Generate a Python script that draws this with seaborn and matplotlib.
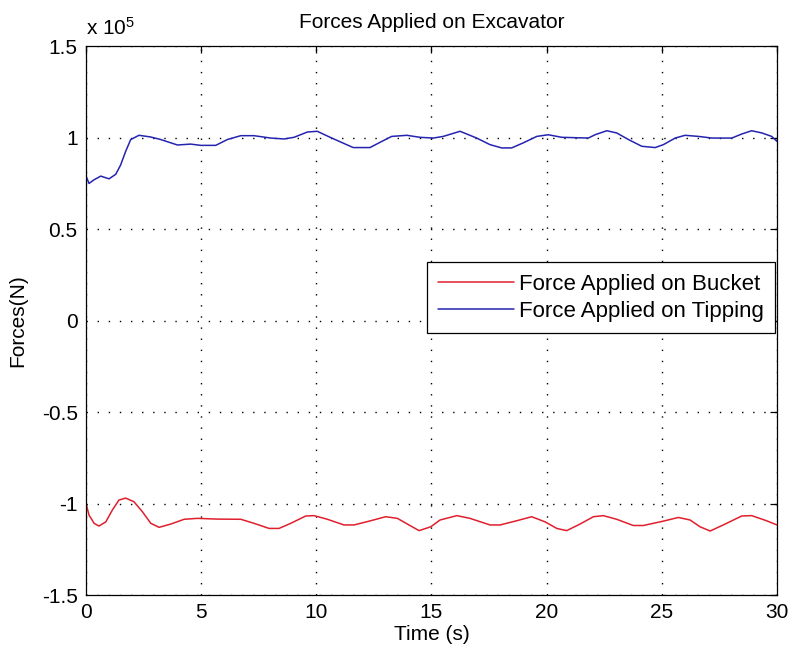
import numpy as np
import pandas as pd
import matplotlib
matplotlib.use("Agg")
import matplotlib.pyplot as plt
from matplotlib.ticker import FuncFormatter, MultipleLocator
import seaborn as sns

# Time samples (s) and forces (in units of 1e5 N)
t_bucket = [0, 0.13, 0.35, 0.56, 0.86, 1.14, 1.43, 1.72, 2.08, 2.45,
            2.81, 3.17, 3.68, 4.26, 4.83, 5.7, 6.72, 7.29, 7.95, 8.38,
            8.89, 9.54, 9.9, 10.48, 11.2, 11.64, 12.36, 13.01, 13.52, 14.02,
            14.46, 14.97, 15.37, 16.1, 16.67, 17.54, 17.98, 18.7, 19.35, 19.93,
            20.44, 20.87, 21.45, 22.03, 22.46, 23.04, 23.76, 24.2, 25.07, 25.72,
            26.23, 26.66, 27.1, 27.67, 28.47, 28.9, 29.55, 30]
f_bucket = [-1.0, -1.063, -1.108, -1.123, -1.1, -1.036, -0.981, -0.97, -0.99, -1.045,
            -1.108, -1.13, -1.112, -1.086, -1.081, -1.085, -1.086, -1.108, -1.136, -1.136,
            -1.108, -1.068, -1.066, -1.086, -1.117, -1.117, -1.094, -1.072, -1.081, -1.117,
            -1.148, -1.127, -1.09, -1.066, -1.081, -1.117, -1.117, -1.094, -1.072, -1.1,
            -1.136, -1.148, -1.112, -1.072, -1.066, -1.086, -1.12, -1.12, -1.096, -1.076,
            -1.09, -1.127, -1.15, -1.117, -1.068, -1.066, -1.094, -1.117]

t_tipping = [0, 0.13, 0.35, 0.64, 1.0, 1.29, 1.5, 1.72, 1.94, 2.3,
             2.8, 3.24, 3.97, 4.54, 4.98, 5.63, 6.14, 6.72, 7.29, 8.02,
             8.6, 9.03, 9.61, 10.04, 10.6, 11.17, 11.6, 12.33, 12.77, 13.27,
             13.93, 14.5, 15.08, 15.51, 16.24, 16.96, 17.54, 18.05, 18.48, 18.99,
             19.57, 20.07, 20.66, 21.81, 22.1, 22.61, 23.04, 23.55, 24.13, 24.71,
             25.07, 25.58, 26.01, 26.59, 27.17, 28.04, 28.47, 28.9, 29.34, 29.77, 30]
f_tipping = [0.79, 0.75, 0.77, 0.79, 0.775, 0.80, 0.85, 0.925, 0.99, 1.013,
             1.004, 0.99, 0.96, 0.965, 0.958, 0.958, 0.99, 1.011, 1.011, 0.998,
             0.993, 1.002, 1.031, 1.035, 1.002, 0.97, 0.946, 0.946, 0.975, 1.007,
             1.013, 1.002, 0.998, 1.007, 1.035, 0.998, 0.962, 0.944, 0.944, 0.972,
             1.007, 1.016, 1.002, 0.998, 1.016, 1.038, 1.026, 0.99, 0.953, 0.946,
             0.962, 0.998, 1.013, 1.007, 0.998, 0.998, 1.02, 1.038, 1.026, 1.007, 0.98]

labels = ["Force Applied on Bucket", "Force Applied on Tipping"]
SCALE = 1e5

sns.set_theme(style="white")
plt.rcParams["font.family"] = ["Liberation Sans", "DejaVu Sans"]
plt.rcParams["mathtext.fontset"] = "custom"
plt.rcParams["mathtext.rm"] = "Liberation Sans"
plt.rcParams["mathtext.it"] = "Liberation Sans"
plt.rcParams["axes.unicode_minus"] = False
plt.rcParams["text.color"] = "black"

FS = 15

fig = plt.figure(figsize=(7.9, 6.51), dpi=100)
ax = fig.add_axes([0.1089, 0.086, 0.8746, 0.843])

df_b = pd.DataFrame({"t": t_bucket, "F": np.array(f_bucket) * SCALE})
df_t = pd.DataFrame({"t": t_tipping, "F": np.array(f_tipping) * SCALE})
sns.lineplot(data=df_b, x="t", y="F", color="#e01f2d", linewidth=1.1,
             estimator=None, label=labels[0], ax=ax)
sns.lineplot(data=df_t, x="t", y="F", color="#2424b0", linewidth=1.1,
             estimator=None, label=labels[1], ax=ax)

ax.set_xlim(0, 30)
ax.set_ylim(-1.5 * SCALE, 1.5 * SCALE)
ax.xaxis.set_major_locator(MultipleLocator(5))
ax.yaxis.set_major_locator(MultipleLocator(0.5 * SCALE))
ax.yaxis.set_major_formatter(FuncFormatter(lambda v, p: "%g" % (v / SCALE)))

ax.grid(True, color="black", linestyle=(0, (1, 7)), linewidth=1.0)
for s in ax.spines.values():
    s.set_color("black")
    s.set_linewidth(0.9)
    s.set_visible(True)
ax.tick_params(direction="in", length=5, width=0.9, colors="black",
               labelsize=FS, top=True, right=True, pad=6)
ax.set_facecolor("white")

ax.set_title("Forces Applied on Excavator", fontsize=FS, pad=13, color="black")
ax.set_xlabel("Time (s)", fontsize=FS, color="black")
ax.set_ylabel("Forces(N)", fontsize=FS, color="black")
ax.xaxis.set_label_coords(0.5, -0.055)
ax.xaxis.label.set_va("top")
ax.yaxis.set_label_coords(-0.085, 0.5)

ax.text(0.0, 1.02, r"x 10$^{5}$", transform=ax.transAxes, ha="left",
        va="baseline", fontsize=FS, color="black")

leg = ax.legend(loc="upper right", bbox_to_anchor=(0.997, 0.606), fontsize=16,
                frameon=True, fancybox=False, borderaxespad=0, handlelength=3.4,
                handletextpad=0.22, borderpad=0.5, labelspacing=0.28,
                labelcolor="black")
leg.get_frame().set_edgecolor("black")
leg.get_frame().set_linewidth(0.9)
leg.get_frame().set_alpha(1)

fig.savefig("out.png", dpi=100, facecolor="white")
